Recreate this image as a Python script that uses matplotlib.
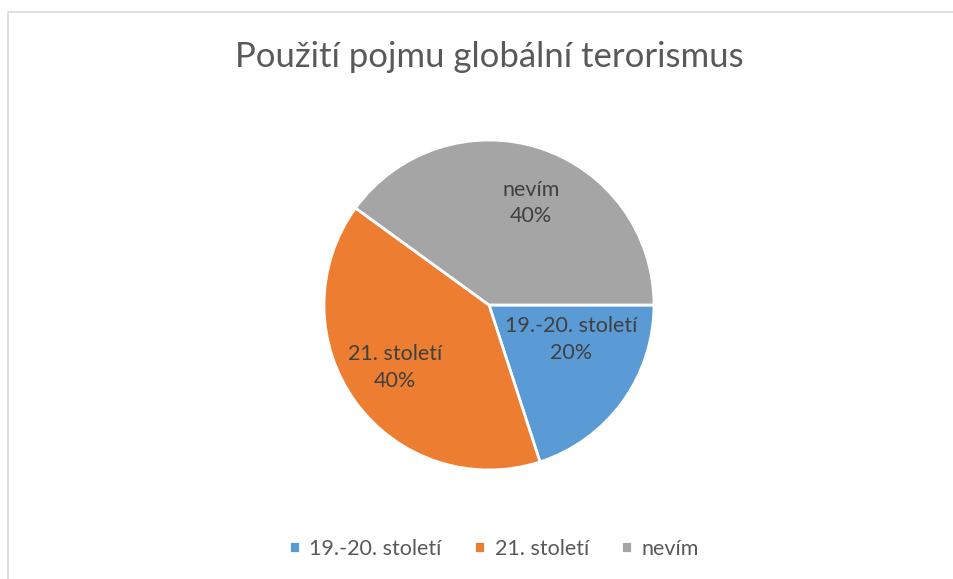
import matplotlib.pyplot as plt
from matplotlib.patches import Rectangle

# data
categories = ['19.-20. století', '21. století', 'nevím']
shares = [20, 40, 40]
colors = ['#5B9BD5', '#ED7D31', '#A5A5A5']
title = 'Použití pojmu globální terorismus'

# label anchors inside the pie (fractions of the radius)
label_pos = [(0.50, -0.21), (-0.57, -0.38), (0.255, 0.62)]

W, H = 954, 579
fig = plt.figure(figsize=(W / 100, H / 100), dpi=100)
plt.rcParams['font.family'] = ['Lato', 'DejaVu Sans']

# chart frame (extends past the crop on right/bottom)
fig.patches.append(Rectangle((8 / W, -0.1), 1.2, (H - 12) / H + 0.1,
                             transform=fig.transFigure, fill=False,
                             edgecolor='#D9D9D9', linewidth=1.2))

cx, cy, r = 489, H - 305, 165
ax = fig.add_axes([(cx - r) / W, (cy - r) / H, 2 * r / W, 2 * r / H])
wedges, _ = ax.pie(shares, colors=colors, startangle=0, counterclock=False,
                   wedgeprops=dict(edgecolor='white', linewidth=2))
ax.set_xlim(-1, 1)
ax.set_ylim(-1, 1)
ax.set_aspect('equal')

for (x, y), cat, val in zip(label_pos, categories, shares):
    ax.text(x, y, f'{cat}\n{val}%', ha='center', va='center',
            fontsize=15.5, color='#404040', linespacing=1.4)

fig.text(cx / W, 1 - 57 / H, title, ha='center', va='center',
         fontsize=25, color='#595959')

fig.legend(wedges, categories, loc='center', bbox_to_anchor=(494 / W, 1 - 549 / H),
           ncol=3, frameon=False, fontsize=15.5, labelcolor='#595959',
           handlelength=0.5, handleheight=0.5, handletextpad=0.45,
           columnspacing=1.5)

fig.savefig('out.png', dpi=100)
